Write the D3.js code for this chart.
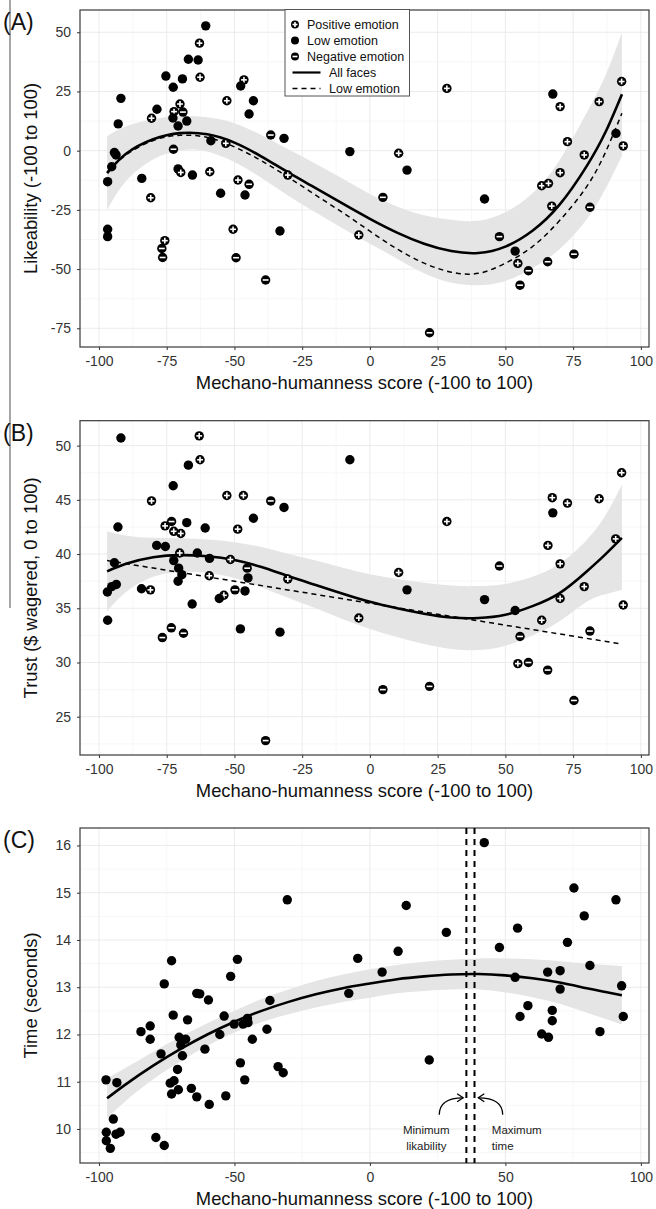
<!DOCTYPE html>
<html>
<head>
<meta charset="utf-8">
<script src="https://cdnjs.cloudflare.com/ajax/libs/d3/7.8.5/d3.min.js"></script>
<style>
body{margin:0;background:#fff;}
svg{display:block;font-family:"Liberation Sans",Arial,Helvetica,sans-serif;}
.grid line{stroke:#ebebeb;stroke-width:1;}
.grid line.minor{stroke:#f3f3f3;stroke-width:0.7;}
.band{fill:#e5e5e5;stroke:none;}
.fit{fill:none;stroke:#000;stroke-width:2.6;}
.fitdash{fill:none;stroke:#000;stroke-width:1.5;stroke-dasharray:5,4;}
.axis text{font-size:14px;fill:#333;}
.axis line{stroke:#333;}
.axis path{display:none;}
.title{font-size:18.4px;fill:#111;}
.plabel{font-size:23px;fill:#111;}
.legend text{font-size:12.5px;fill:#111;}
.note{font-size:11.5px;fill:#222;}
</style>
</head>
<body>
<script>
// emotion type: P = positive, L = low, N = negative
var likeX = [-60.6,-62.9,-67,-63.4,-62.7,-75.3,-69.2,-72.6,-46.5,-47.7,-91.9,-52.8,-43,-70.1,-78.6,-72.3,-69,-44.6,-80.6,-92.9,-72.7,-67.6,-70.8,-36.6,-31.7,-58.7,-53.2,-72.5,-94.3,-93.7,-95.3,-70.8,-69.8,-65.5,-59.1,-30.3,-48.7,-44.6,-96.8,-84.2,-55.1,-46.1,-80.9,-96.8,-96.8,-50.5,-33.2,-75.7,-76.8,-76.5,-49.4,-38.5,
  28.4,67.5,70.2,92.9,84.6,90.8,93.5,72.9,79.1,-7.4,10.6,13.7,70.2,63.4,65.9,67.1,81.2,4.8,42.3,-4.1,47.8,53.6,54.6,58.5,65.6,75.3,55.4,22];
var likeY = [52.7,45.4,38.6,38.3,31,31.5,30.3,26.8,29.9,27.3,22.1,21.1,21.1,19.7,17.5,16.5,16.3,15.5,13.7,11.3,13.8,12.5,10.4,6.6,5.2,4.2,3.1,0.6,-0.8,-1.8,-6.8,-7.7,-9.2,-10.3,-8.9,-10.3,-12.4,-14.2,-13.1,-11.7,-18,-18.7,-19.9,-33.2,-36.3,-33.2,-33.9,-38,-41.3,-45.1,-45.2,-54.6,
  26.3,23.9,18.6,29.2,20.7,7.3,2,3.8,-1.8,-0.4,-1.1,-8.2,-9.3,-14.8,-13.8,-23.4,-23.9,-19.7,-20.4,-35.6,-36.3,-42.4,-47.6,-50.7,-46.9,-43.7,-56.8,-76.9];
var likeType = ["L","P","L","L","P","L","L","L","P","L","L","P","L","P","L","P","N","L","P","L","L","L","L","N","L","L","P","N","L","L","L","L","P","L","P","P","P","N","L","L","L","L","P","L","L","P","L","P","N","N","N","N",
  "P","L","P","P","P","L","P","P","P","L","P","L","P","P","P","P","N","N","L","P","N","L","P","N","N","N","N","N"];

var trustX = [-91.9,-63,-62.7,-67,-72.6,-80.6,-52.8,-46.7,-36.6,-31.7,-43,-93,-73.2,-75.6,-72.4,-69.8,-67.6,-60.8,-48.8,-78.7,-75.5,-70.2,-63.7,-59.2,-51.5,-72.4,-94.3,-70.6,-69.4,-59.3,-45.3,-30.3,-70.8,-45,-93.6,-95.3,-96.9,-84.3,-81,-53.9,-55.6,-49.8,-46.1,-65.6,-96.8,-76.6,-73.3,-68.8,-47.8,-33.2,-38.5,
  -7.4,92.9,67.3,72.9,84.6,67.5,28.4,65.7,90.7,47.8,70.2,10.6,13.7,79.1,42.3,70.2,93.5,53.6,63.4,-4.1,55.4,81.2,54.6,58.5,65.6,4.8,22,75.3];
var trustY = [50.7,50.9,48.7,48.2,46.3,44.9,45.4,45.4,44.9,44.3,43.3,42.5,43,42.6,42.1,41.9,42.9,42.4,42.3,40.8,40.7,40.1,40.1,39.6,39.5,39.4,39.2,38.7,38.1,38,38.7,37.7,37.5,37.8,37.2,37,36.5,36.8,36.7,36.2,35.9,36.7,36.6,35.4,33.9,32.3,33.2,32.7,33.1,32.8,22.8,
  48.7,47.5,45.2,44.7,45.1,43.8,43,40.8,41.4,38.9,39.1,38.3,36.7,37,35.8,35.9,35.3,34.8,33.9,34.1,32.4,32.9,29.9,30,29.3,27.5,27.8,26.5];
var trustType = ["L","P","P","L","L","P","P","P","N","L","L","L","N","P","P","P","L","L","P","L","L","P","L","L","P","L","L","L","L","P","N","P","L","L","L","L","L","L","P","P","L","N","L","L","L","N","N","N","L","L","N",
  "L","P","P","P","P","L","P","P","P","N","P","P","L","P","L","P","P","L","P","P","N","N","P","N","N","N","N","N"];

var timeX = [-30.5,-73.2,-48.9,-75.9,-51.4,-63.9,-62.8,-59.6,-36.9,-72.6,-67.3,-53.8,-45.2,-50.1,-46.8,-45,-84.5,-81.1,-81.1,-38,-55.4,-70.4,-68,-69.8,-43.4,-60.9,-77.1,-69.2,-71,-47.8,-33.9,-32,-97.4,-93.4,-73.7,-72.3,-46.2,-70.7,-73.2,-65.9,-63.9,-53.2,-59.3,-94.7,-97.3,-93.7,-92.2,-97.3,-95.8,-79,-75.9,
  42.2,75.3,90.8,13.4,79.1,54.5,28.2,72.9,47.8,-4.5,10.4,4.5,81.2,65.6,70.2,53.6,92.9,70.2,-7.8,58.3,55.4,67.3,67.3,93.5,84.9,63.4,65.9,21.9];
var timeY = [14.85,13.56,13.59,13.07,13.23,12.87,12.86,12.73,12.72,12.41,12.31,12.39,12.34,12.22,12.22,12.25,12.06,12.18,11.9,12.11,12.0,11.94,11.9,11.78,11.9,11.69,11.59,11.55,11.26,11.4,11.32,11.19,11.04,10.98,10.97,11.02,11.04,10.83,10.74,10.86,10.68,10.7,10.52,10.21,9.93,9.89,9.93,9.75,9.59,9.82,9.65,
  16.06,15.1,14.85,14.73,14.51,14.25,14.16,13.95,13.84,13.61,13.76,13.32,13.46,13.32,13.35,13.21,13.03,12.96,12.87,12.61,12.38,12.51,12.29,12.38,12.06,12.01,11.94,11.46];

// fitted curves and confidence bands
var fitX = [-97,-90,-80,-70,-60,-50,-40,-30,-20,-10,0,10,20,30,40,50,60,70,80,87,93];
var likeFit = [-9.5,-1.3,4.8,7.4,6.9,3.4,-2.5,-9.3,-15.8,-22.4,-28.8,-34.6,-39.3,-42.4,-43.2,-40.5,-33.8,-22.8,-6.5,8,23.8];
var likeHi = [6.1,10.3,13.3,14.6,14.1,11.6,6.5,0.5,-5.5,-11.9,-18.3,-23.6,-27.3,-29.2,-29.6,-26,-18,-4,16,32,49.8];
var likeLo = [-25.1,-12.8,-3.7,0.2,-0.3,-4.8,-11.5,-19.1,-26.1,-32.9,-39.3,-45.6,-51.8,-55.8,-56.8,-55,-49.6,-41.6,-29,-16,-2.2];
var likeLowEmo = [-9,-1.8,4.3,6.5,5.6,1.6,-4.3,-11.3,-18.8,-26.2,-34,-41.5,-47.5,-51.3,-51.8,-47.5,-40.5,-29.5,-15.2,-0.5,15.8];

var trustFit = [38.4,39.1,39.7,39.9,39.8,39.45,38.8,37.95,37.15,36.35,35.6,35.0,34.5,34.15,34.1,34.4,35.2,36.4,38.4,40.0,41.5];
var trustHi = [42.1,41.7,41.5,41.45,41.35,41.1,40.65,40.0,39.4,38.75,38.15,37.7,37.35,37.1,37.05,37.25,37.9,39.1,41.3,43.6,46.4];
var trustLo = [34.7,36.5,37.9,38.35,38.25,37.8,36.95,35.95,35.0,34.0,33.1,32.35,31.7,31.25,31.15,31.55,32.5,33.8,35.6,36.3,36.7];
var trustLowEmoX = [-97,93];
var trustLowEmo = [39.4,31.7];

var timeFit = [10.65,10.95,11.34,11.69,12.0,12.27,12.5,12.69,12.85,12.98,13.08,13.17,13.23,13.27,13.28,13.25,13.19,13.1,12.98,12.9,12.83];
var timeHi = [11.07,11.3,11.63,11.95,12.24,12.5,12.75,12.95,13.13,13.27,13.38,13.47,13.54,13.58,13.61,13.61,13.59,13.55,13.5,13.47,13.45];
var timeLo = [10.23,10.6,11.05,11.43,11.76,12.04,12.26,12.43,12.57,12.69,12.78,12.87,12.92,12.95,12.95,12.89,12.79,12.65,12.46,12.33,12.21];

// minimum likability / maximum time
var markerX = [35.6,38.6];
var markerText = [["Minimum","likability"],["Maximum","time"]];
var markerTextX = [20.8,45];
var arrowFrom = [[25.6,10.30],[49.0,10.30]];
var arrowTo = [[34.4,10.66],[40.0,10.66]];

var xTicks = [-100,-75,-50,-25,0,25,50,75,100];
var xTicksC = [-100,-50,0,50,100];
var likeTicks = [-75,-50,-25,0,25,50];
var trustTicks = [25,30,35,40,45,50];
var timeTicks = [10,11,12,13,14,15,16];

var legendLabels = ["Positive emotion","Low emotion","Negative emotion","All faces","Low emotion"];
var xTitle = "Mechano-humanness score (-100 to 100)";

var L = 80, R = 649;

var svg = d3.select("body").append("svg").attr("width",656).attr("height",1209);

var minors = function(ticks){
    var step = ticks[1]-ticks[0], out = [];
    for (var i=0;i<ticks.length;i++){ out.push(ticks[i]-step/2); }
    out.push(ticks[ticks.length-1]+step/2);
    return out;
}

var drawSymbols = function(sel, typeOf, r){
    sel.append("circle").attr("r",r).attr("fill","#000");
    var a = r*0.62;
    sel.filter(function(i){return typeOf(i)!=="L";}).append("line")
        .attr("x1",-a).attr("x2",a).attr("y1",0).attr("y2",0)
        .attr("stroke","#fff").attr("stroke-width",1.6);
    sel.filter(function(i){return typeOf(i)==="P";}).append("line")
        .attr("x1",0).attr("x2",0).attr("y1",-a).attr("y2",a)
        .attr("stroke","#fff").attr("stroke-width",1.6);
}

var drawPanel = function(p){
    var x = d3.scaleLinear().domain([-107,103]).range([L,R]);
    var y = d3.scaleLinear().domain(p.ydom).range([p.bottom,p.top]);
    var g = svg.append("g");
    var grid = g.append("g").attr("class","grid");
    var inX = function(v){ return v>=-107 && v<=103; };
    var inY = function(v){ return v>=p.ydom[0] && v<=p.ydom[1]; };
    grid.selectAll("line.minor.vx").data(minors(p.xticks).filter(inX)).enter().append("line")
        .attr("class","minor").attr("x1",x).attr("x2",x).attr("y1",p.top).attr("y2",p.bottom);
    grid.selectAll("line.minor.hy").data(minors(p.yticks).filter(inY)).enter().append("line")
        .attr("class","minor").attr("y1",y).attr("y2",y).attr("x1",L).attr("x2",R);
    grid.selectAll("line.vx").data(p.xticks).enter().append("line")
        .attr("x1",x).attr("x2",x).attr("y1",p.top).attr("y2",p.bottom);
    grid.selectAll("line.hy").data(p.yticks).enter().append("line")
        .attr("y1",y).attr("y2",y).attr("x1",L).attr("x2",R);

    var idx = d3.range(fitX.length);
    var band = d3.area().curve(d3.curveNatural)
        .x(function(i){return x(fitX[i]);})
        .y0(function(i){return y(p.lo[i]);})
        .y1(function(i){return y(p.hi[i]);});
    g.append("path").datum(idx).attr("class","band").attr("d",band);

    if (p.dashY){
        var dl = d3.line().curve(d3.curveNatural)
            .x(function(i){return x(p.dashX[i]);})
            .y(function(i){return y(p.dashY[i]);});
        g.append("path").datum(d3.range(p.dashX.length)).attr("class","fitdash").attr("d",dl);
    }
    var fl = d3.line().curve(d3.curveNatural)
        .x(function(i){return x(fitX[i]);})
        .y(function(i){return y(p.fit[i]);});
    g.append("path").datum(idx).attr("class","fit").attr("d",fl);

    var pts = g.append("g").selectAll("g").data(d3.range(p.px.length)).enter().append("g")
        .attr("transform",function(i){return "translate("+x(p.px[i])+","+y(p.py[i])+")";});
    drawSymbols(pts, function(i){return p.pt ? p.pt[i] : "L";}, 4.7);

    g.append("rect").attr("x",L).attr("y",p.top).attr("width",R-L).attr("height",p.bottom-p.top)
        .attr("fill","none").attr("stroke","#3a3a3a").attr("stroke-width",1.2);

    g.append("g").attr("class","axis").attr("transform","translate(0,"+p.bottom+")")
        .call(d3.axisBottom(x).tickValues(p.xticks).tickSize(3).tickPadding(6).tickFormat(function(d){return String(d);}));
    g.append("g").attr("class","axis").attr("transform","translate("+L+",0)")
        .call(d3.axisLeft(y).tickValues(p.yticks).tickSize(3).tickPadding(6).tickFormat(function(d){return String(d);}));

    g.append("text").attr("class","title").attr("x",(L+R)/2).attr("y",p.bottom+42)
        .attr("text-anchor","middle").text(xTitle);
    g.append("text").attr("class","title").attr("transform","translate(37,"+((p.top+p.bottom)/2)+") rotate(-90)")
        .attr("text-anchor","middle").text(p.ytitle);
    g.append("text").attr("class","plabel").attr("x",3).attr("y",p.top+20).text(p.label);
    return {g:g,x:x,y:y};
}

var loadLegend = function(g){
    var lg = g.append("g").attr("class","legend");
    lg.append("rect").attr("x",285).attr("y",9.5).attr("width",124.5).attr("height",86.5)
        .attr("fill","#fff").attr("stroke","#555").attr("stroke-width",1);
    var rowY = d3.scalePoint().domain(d3.range(legendLabels.length)).range([24.5,88.5]);
    var types = ["P","L","N"];
    var sym = lg.selectAll("g.sym").data([0,1,2]).enter().append("g")
        .attr("transform",function(i){return "translate(295,"+rowY(i)+")";});
    drawSymbols(sym, function(i){return types[i];}, 4);
    lg.append("line").attr("x1",292.5).attr("x2",320.5).attr("y1",rowY(3)).attr("y2",rowY(3))
        .attr("stroke","#000").attr("stroke-width",2.2);
    lg.append("line").attr("x1",292.5).attr("x2",320.5).attr("y1",rowY(4)).attr("y2",rowY(4))
        .attr("stroke","#000").attr("stroke-width",1.4).attr("stroke-dasharray","5,4");
    lg.selectAll("text").data(d3.range(legendLabels.length)).enter().append("text")
        .attr("x",function(i){return i<3 ? 307 : 329;})
        .attr("y",function(i){return rowY(i);}).attr("dy","0.35em")
        .text(function(i){return legendLabels[i];});
}

var loadMarkers = function(c, top, bottom){
    c.g.selectAll("line.mk").data(markerX).enter().append("line")
        .attr("x1",c.x).attr("x2",c.x).attr("y1",top).attr("y2",bottom)
        .attr("stroke","#000").attr("stroke-width",2).attr("stroke-dasharray","6,5");
    var anchors = ["middle","start"];
    markerText.forEach(function(lines,k){
        c.g.append("text").attr("class","note").attr("text-anchor",anchors[k])
            .attr("x",c.x(markerTextX[k])).attr("y",bottom-29).text(lines[0]);
        c.g.append("text").attr("class","note").attr("text-anchor",anchors[k])
            .attr("x",c.x(markerTextX[k])).attr("y",bottom-13).text(lines[1]);
    });
    arrowFrom.forEach(function(f,k){
        var sx=c.x(f[0]), sy=c.y(f[1]), ex=c.x(arrowTo[k][0]), ey=c.y(arrowTo[k][1]);
        var path = d3.path();
        path.moveTo(sx,sy);
        path.quadraticCurveTo(sx,ey,ex,ey);
        c.g.append("path").attr("d",path.toString()).attr("fill","none").attr("stroke","#000").attr("stroke-width",1.3);
        var dir = ex>sx ? -1 : 1;
        c.g.append("path").attr("d","M"+(ex+dir*6)+","+(ey-4)+"L"+ex+","+ey+"L"+(ex+dir*6)+","+(ey+4))
            .attr("fill","none").attr("stroke","#000").attr("stroke-width",1.3);
    });
}

var loadGraph = function(){
    svg.append("line").attr("x1",10).attr("x2",10).attr("y1",0).attr("y2",608)
        .attr("stroke","#888").attr("stroke-width",1.5);

    var a = drawPanel({top:10,bottom:347,ydom:[-82.9,59.4],xticks:xTicks,yticks:likeTicks,
        px:likeX,py:likeY,pt:likeType,fit:likeFit,hi:likeHi,lo:likeLo,dashX:fitX,dashY:likeLowEmo,
        ytitle:"Likeability (-100 to 100)",label:"(A)"});
    loadLegend(a.g);

    drawPanel({top:420.7,bottom:755,ydom:[21.47,52.3],xticks:xTicks,yticks:trustTicks,
        px:trustX,py:trustY,pt:trustType,fit:trustFit,hi:trustHi,lo:trustLo,dashX:trustLowEmoX,dashY:trustLowEmo,
        ytitle:"Trust ($ wagered, 0 to 100)",label:"(B)"});

    var c = drawPanel({top:828,bottom:1163,ydom:[9.28,16.37],xticks:xTicksC,yticks:timeTicks,
        px:timeX,py:timeY,pt:null,fit:timeFit,hi:timeHi,lo:timeLo,
        ytitle:"Time (seconds)",label:"(C)"});
    loadMarkers(c, 828, 1163);
}

loadGraph();
</script>
</body>
</html>
